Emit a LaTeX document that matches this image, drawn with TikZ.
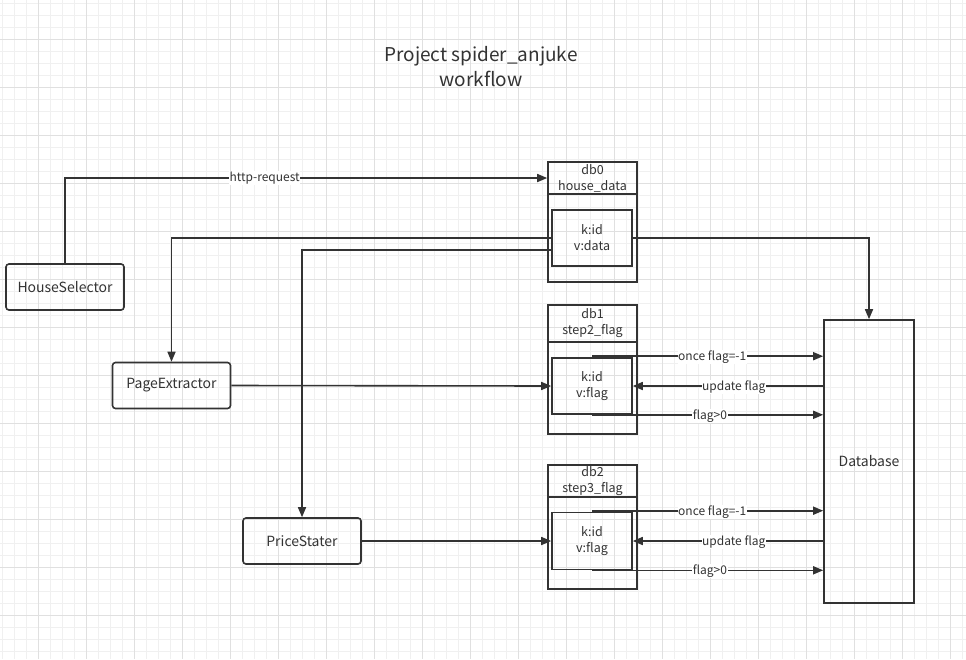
\documentclass[tikz,border=0pt]{standalone}
\usepackage{fontspec}
\setmainfont{Noto Sans CJK SC}
\usetikzlibrary{arrows.meta}
\definecolor{ink}{HTML}{333333}
\colorlet{gridminor}{black!6}
\colorlet{gridmajor}{black!12}

\begin{document}
\begin{tikzpicture}[x=1pt, y=-1pt,
    proc/.style={draw=ink, line width=1.6pt, rounded corners=3pt, minimum width=118pt, minimum height=46pt, text=ink, font=\fontsize{14}{16}\selectfont},
    dbbox/.style={draw=ink, line width=1.6pt, minimum width=89pt, text=ink, align=center, inner sep=0pt, font=\fontsize{12.5}{16}\selectfont},
    kvbox/.style={draw=ink, line width=1.6pt, minimum width=80pt, minimum height=56pt, text=ink, align=center, font=\fontsize{12.5}{16}\selectfont},
    conn/.style={draw=ink, line width=1.6pt, -{Triangle[length=10pt, width=8pt]}},
    lbl/.style={fill=white, text=ink, inner sep=0.5pt, font=\fontsize{12}{14}\selectfont}
  ]

    \useasboundingbox (0, 0) rectangle (966, 659);
    \fill[white] (0, 0) rectangle (966, 659);

    \foreach \x in {2, 14, ..., 962} \draw[gridminor, line width=1pt] (\x, 0) -- (\x, 659);
    \foreach \y in {3, 15, ..., 659} \draw[gridminor, line width=1pt] (0, \y) -- (966, \y);
    \foreach \x in {38, 86, ..., 950} \draw[gridmajor, line width=1pt] (\x, 0) -- (\x, 659);
    \foreach \y in {39, 87, ..., 615} \draw[gridmajor, line width=1pt] (0, \y) -- (966, \y);

    \node[text=ink, align=center, font=\fontsize{19}{25}\selectfont] (title) at (481, 67) {Project spider\_anjuke\\workflow};

    \node[proc] (hs) at (65, 287) {HouseSelector};
    \node[proc] (pe) at (171.5, 385.5) {PageExtractor};
    \node[proc] (ps) at (302, 541) {PriceStater};
    \node[proc, rounded corners=0pt, minimum width=90pt, minimum height=283pt] (dbase) at (869, 461.5) {Database};

    % db0
    \node[dbbox, minimum height=120pt] (db0) at (592.5, 222) {};
    \node[dbbox, minimum height=32pt, anchor=north] (db0h) at (db0.north) {db0\\house\_data};
    \node[kvbox] (db0in) at (592, 238) {k:id\\v:data};

    % db1
    \node[dbbox, minimum height=129pt] (db1) at (592.5, 369.5) {};
    \node[dbbox, minimum height=37pt, anchor=north] (db1h) at (db1.north) {db1\\step2\_flag};
    \node[kvbox] (db1in) at (592, 386) {k:id\\v:flag};

    % db2
    \node[dbbox, minimum height=124pt] (db2) at (592.5, 527) {};
    \node[dbbox, minimum height=32pt, anchor=north] (db2h) at (db2.north) {db2\\step3\_flag};
    \node[kvbox, minimum height=57pt] (db2in) at (592, 541) {k:id\\v:flag};

    \draw[conn] (hs.north) |- node[lbl, pos=0.707] {http-request} (db0h.west);
    \draw[conn] (db0in.west) -| (pe.north);
    \draw[conn] ([yshift=-12pt]db0in.west) -| (ps.north);
    \draw[conn] (db0in.east) -| (dbase.north);

    \draw[conn] (pe.east) -- (db1in.west);
    \draw[conn] (ps.east) -- (db2in.west);

    \foreach \db in {db1, db2} {
      \draw[conn] ([yshift=1pt]\db in.north) -- ([yshift=1pt]\db in.north -| dbase.west) node[lbl, pos=0.52, yshift=-1pt] {once flag=-1};
      \draw[conn] (\db in.east -| dbase.west) -- (\db in.east) node[lbl, pos=0.47, yshift=-1pt] {update flag};
      \draw[conn] (\db in.south) -- (\db in.south -| dbase.west) node[lbl, pos=0.51, yshift=-1pt] {flag>0};
    }

\end{tikzpicture}
\end{document}
